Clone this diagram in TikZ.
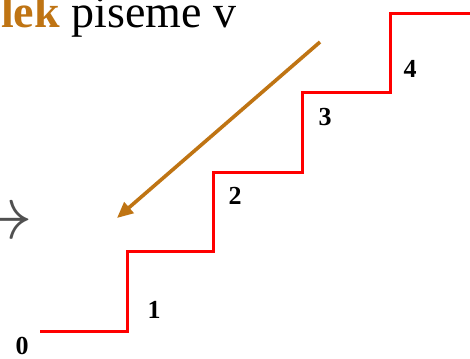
\documentclass[tikz,border=0pt]{standalone}
\usepackage{fontspec}
\setmainfont{Liberation Serif}
\usetikzlibrary{arrows.meta,positioning}
\definecolor{Stair}{HTML}{FF0000}
\definecolor{Ochre}{HTML}{BF7413}
\definecolor{Ink}{HTML}{000000}
\definecolor{Muted}{HTML}{505050}
\tikzset{
  stairline/.style={draw=Stair,line width=3pt},
  downarrow/.style={-{Triangle[length=16pt,width=14pt]},draw=Ochre,line width=3.6pt},
  steplabel/.style={font=\fontsize{26}{26}\selectfont\bfseries,text=Ink,inner sep=0pt},
  headtext/.style={font=\fontsize{46}{46}\selectfont,text=Ink,inner sep=0pt,anchor=base west},
  sidearrow/.style={font=\fontsize{25}{25}\selectfont,text=Muted,inner sep=0pt,anchor=east}
}

\begin{document}
\begin{tikzpicture}[x=1pt,y=-1pt]
  \useasboundingbox (0,0) rectangle (470,358);
  \clip (0,0) rectangle (470,358);
  \fill[white] (0,0) rectangle (470,358);
  % heading and arrow cut off at the left edge
  \node[headtext] (head) at (1,28) {\textcolor{Ochre}{\bfseries lek} piseme v};
  \node[sidearrow] (side) at (33,225) {\scalebox{3}{$\rightarrow$}};
  % staircase
  \coordinate (c0) at (40,331);
  \coordinate (c1) at (127,251);
  \coordinate (c2) at (213,172);
  \coordinate (c3) at (302,93);
  \coordinate (c4) at (390,14);
  \coordinate (c5) at (472,14);
  \draw[stairline] (c0) -| (c1) -| (c2) -| (c3) -| (c4) -- (c5);
  \node[steplabel] (n0) at (22,346) {0};
  \node[steplabel] (n1) at (154,310) {1};
  \node[steplabel] (n2) at (235,196) {2};
  \node[steplabel] (n3) at (325,117) {3};
  \node[steplabel] (n4) at (410,69) {4};
  % walking down
  \coordinate (a0) at (320,42);
  \coordinate (a1) at (117,218);
  \draw[downarrow] (a0) -- (a1);
\end{tikzpicture}
\end{document}
